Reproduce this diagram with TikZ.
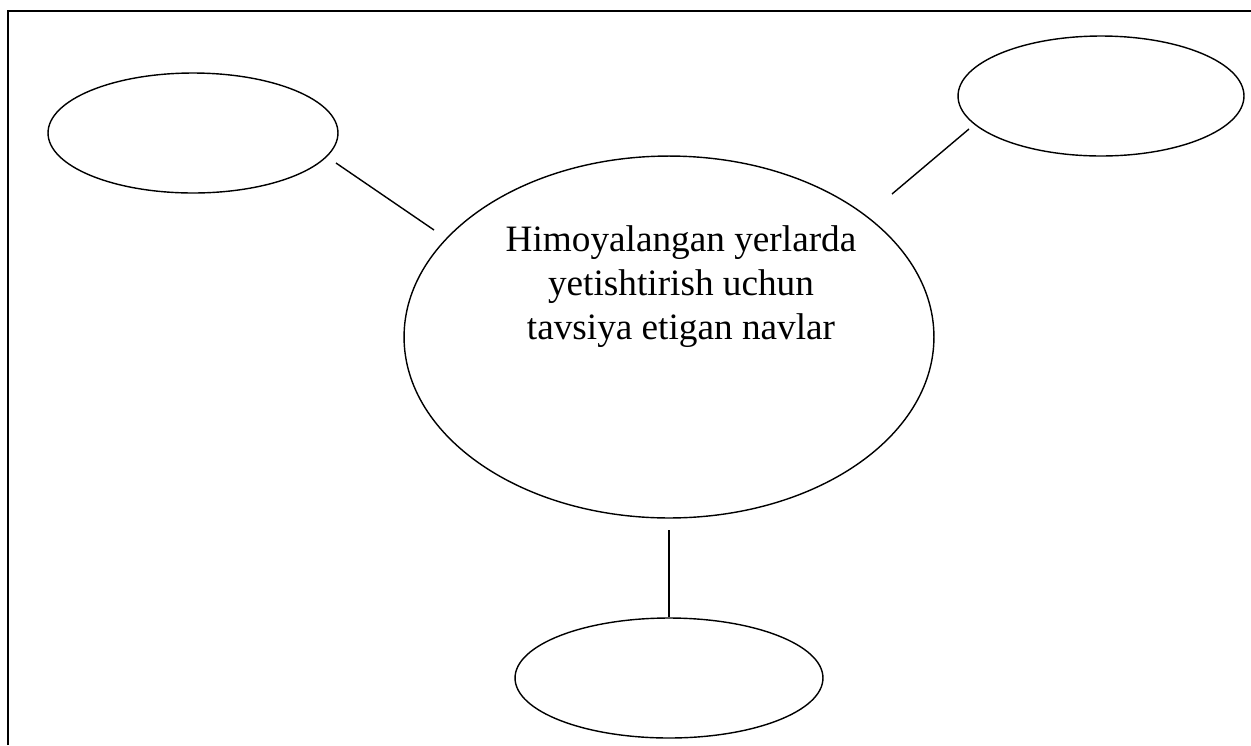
\documentclass[tikz,border=0pt]{standalone}
\usepackage{fontspec}
\setmainfont{Liberation Serif}
\usetikzlibrary{shapes.geometric}

\begin{document}
\begin{tikzpicture}[x=0.02cm,y=-0.02cm,
  oval/.style={draw,ellipse,line width=0.8pt,inner sep=0pt},
  bog/.style={line width=0.8pt}]
\useasboundingbox (0,0) rectangle (1251,745);
\draw[line width=1pt](8,745)--(8,11)--(1251,11);

\node[oval,minimum width=10.6cm,minimum height=7.24cm](markaz) at (669,337){};
\node[oval,minimum width=5.8cm,minimum height=2.4cm](chap) at (193,133){};
\node[oval,minimum width=5.72cm,minimum height=2.4cm](ong) at (1101,96){};
\node[oval,minimum width=6.16cm,minimum height=2.4cm](past) at (669,678){};
\node[align=center,font=\fontsize{21.2}{25}\selectfont](matn) at (681,287)
  {Himoyalangan yerlarda\\yetishtirish uchun\\tavsiya etigan navlar};

\coordinate (c1) at (336,163);
\coordinate (c2) at (434,230);
\coordinate (o1) at (969,129);
\coordinate (o2) at (892,194);
\coordinate (p1) at (669,530);
\draw[bog](c1)--(c2);
\draw[bog](o1)--(o2);
\draw[bog](p1)--(past.north);

\end{tikzpicture}
\end{document}
